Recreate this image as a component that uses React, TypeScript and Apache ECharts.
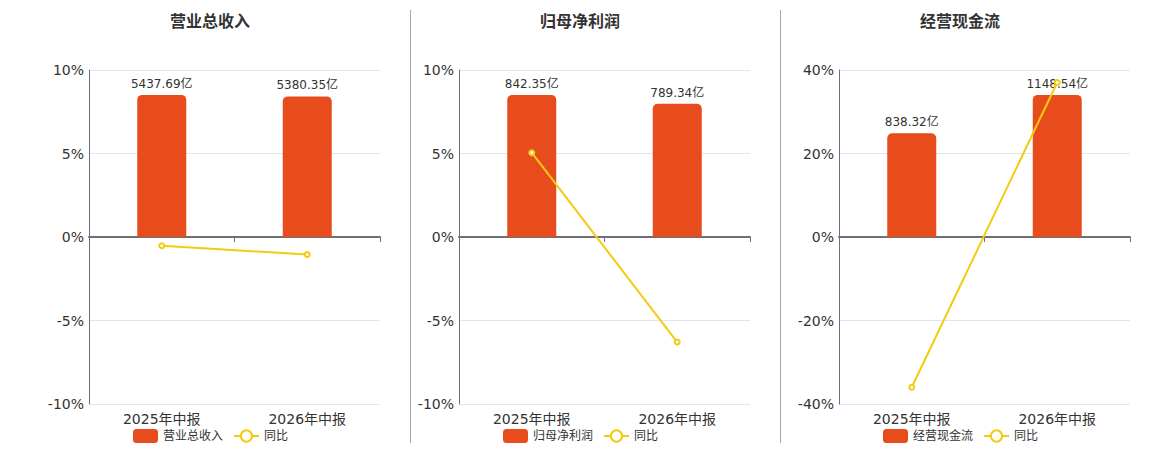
import React, { useEffect, useRef } from "react";
import * as echarts from "echarts";

const categories = ["2025年中报", "2026年中报"];
const titles = ["营业总收入", "归母净利润", "经营现金流"];
const revenue = [5437.69, 5380.35];
const revenueYoY = [-0.52, -1.05];
const profit = [842.35, 789.34];
const profitYoY = [5.05, -6.29];
const cash = [838.32, 1148.54];
const cashYoY = [-36.0, 37.01];
const yoyRanges = [10, 10, 40];

const barValues = [revenue, profit, cash];
const yoyValues = [revenueYoY, profitYoY, cashYoY];

const gridLefts = [89, 459, 839];
const centers = [210, 580, 960];
const legendLefts = [128, 498, 878];

const BAR_COLOR = "#E84B1C";
const LINE_COLOR = "#F3CB0F";
const AXIS_COLOR = "#6E7079";
const FONT = "'DejaVu Sans', 'Noto Sans CJK SC', sans-serif";

export default function App() {
  const ref = useRef<HTMLDivElement>(null);
  useEffect(() => {
    if (!ref.current) return;
    const chart = echarts.init(ref.current, null, { renderer: "svg" });
    const grid: any[] = [];
    const xAxis: any[] = [];
    const yAxis: any[] = [];
    const series: any[] = [];
    const title: any[] = [];
    const legend: any[] = [];
    for (let i = 0; i < 3; i++) {
      grid.push({ left: gridLefts[i], top: 70, width: 291, height: 334 });
      xAxis.push({
        type: "category",
        gridIndex: i,
        data: categories,
        position: "bottom",
        axisLine: { show: false, onZero: false },
        axisTick: { show: false },
        axisLabel: { fontSize: 14, color: "#333", margin: 8 },
      });
      xAxis.push({
        type: "category",
        gridIndex: i,
        data: categories,
        position: "bottom",
        axisLine: { show: true, onZero: true, lineStyle: { color: AXIS_COLOR, width: 2 } },
        axisTick: { show: true, length: 5, lineStyle: { color: AXIS_COLOR } },
        axisLabel: { show: false },
      });
      const r = yoyRanges[i];
      yAxis.push({
        type: "value",
        gridIndex: i,
        min: -r,
        max: r,
        interval: r / 2,
        axisLine: { show: true, lineStyle: { color: AXIS_COLOR } },
        axisTick: { show: false },
        axisLabel: { formatter: "{value}%", fontSize: 14, color: "#333", margin: 5 },
        splitLine: { show: true, lineStyle: { color: "#E0E6F1" } },
      });
      const M = Math.max(...barValues[i]) / 0.851;
      yAxis.push({
        type: "value",
        gridIndex: i,
        min: -M,
        max: M,
        show: false,
        splitLine: { show: false },
      });
      series.push({
        type: "bar",
        name: titles[i],
        xAxisIndex: 2 * i,
        yAxisIndex: 2 * i + 1,
        data: barValues[i],
        barWidth: 49,
        itemStyle: { color: BAR_COLOR, borderRadius: [5, 5, 0, 0] },
        label: {
          show: true,
          position: "top",
          distance: 5,
          fontSize: 12,
          color: "#333",
          formatter: (p: any) => p.value.toFixed(2) + "亿",
        },
      });
      series.push({
        type: "line",
        name: "同比",
        xAxisIndex: 2 * i,
        yAxisIndex: 2 * i,
        data: yoyValues[i],
        symbol: "emptyCircle",
        symbolSize: 5,
        lineStyle: { color: LINE_COLOR, width: 2 },
        itemStyle: { color: LINE_COLOR, borderWidth: 2 },
      });
      title.push({
        text: titles[i],
        left: centers[i] - 5,
        top: 8,
        textAlign: "center",
        textStyle: { fontSize: 16, fontWeight: "bold", color: "#333" },
      });
      legend.push({
        data: [titles[i], "同比"],
        left: legendLefts[i],
        top: 424,
        itemWidth: 25,
        itemHeight: 14,
        itemGap: 10,
        textStyle: { fontSize: 12, color: "#333" },
      });
    }
    chart.setOption({
      animation: false,
      textStyle: { fontFamily: FONT },
      title,
      legend,
      grid,
      xAxis,
      yAxis,
      series,
      graphic: [
        { type: "line", shape: { x1: 410.5, y1: 10, x2: 410.5, y2: 443 }, style: { stroke: "#A8A8A8", lineWidth: 1 } },
        { type: "line", shape: { x1: 780.5, y1: 10, x2: 780.5, y2: 443 }, style: { stroke: "#A8A8A8", lineWidth: 1 } },
      ],
    });
    return () => chart.dispose();
  }, []);
  return (
    <div
      ref={ref}
      style={{ position: "fixed", left: 0, top: 0, width: 1160, height: 450, background: "#fff" }}
    />
  );
}
